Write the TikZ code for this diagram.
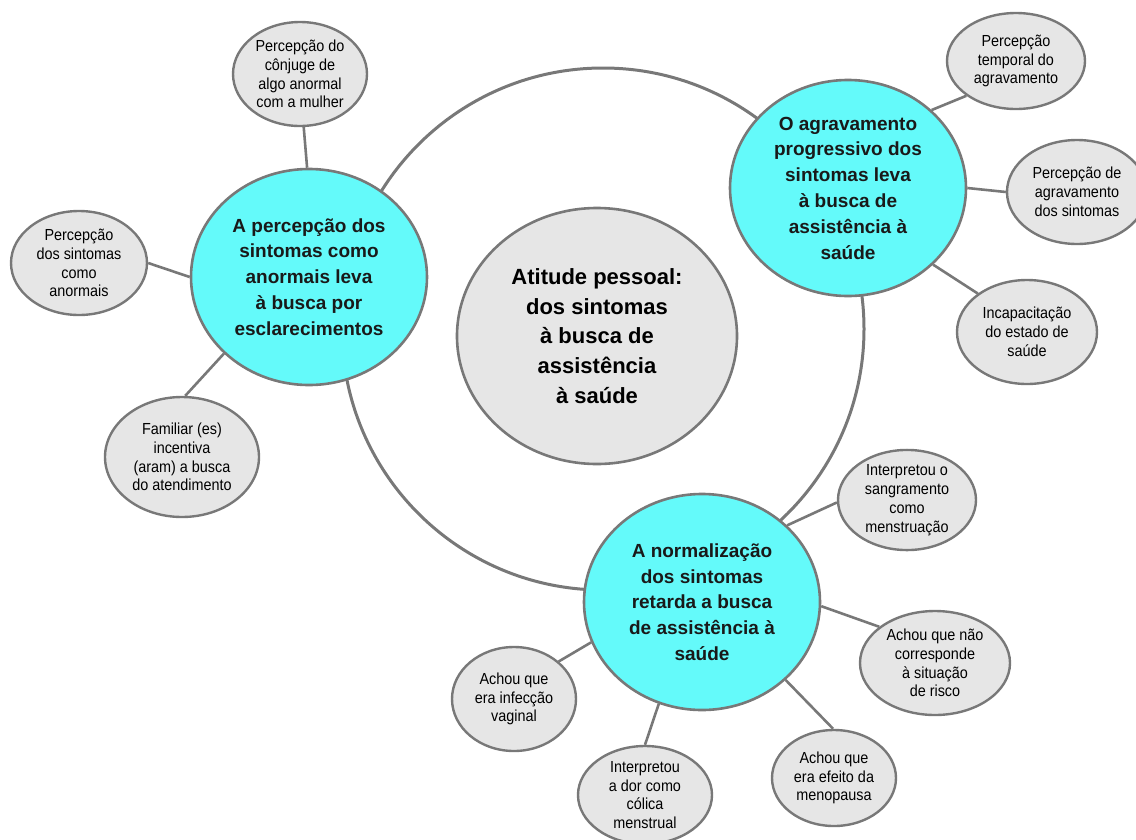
\documentclass[tikz,border=0pt]{standalone}
\usepackage{fontspec}
\setmainfont{Liberation Sans}
\newfontfamily\leaffont[FakeStretch=0.9]{Liberation Sans}
\usetikzlibrary{shapes.geometric}
\definecolor{hubcyan}{RGB}{100,250,250}
\definecolor{leafgray}{RGB}{230,230,230}
\definecolor{linegray}{RGB}{120,120,120}
\tikzset{
  ring/.style ={draw=linegray, line width=3pt, circle, minimum size=522pt, inner sep=0pt},
  core/.style ={draw=linegray, line width=2.6pt, ellipse, fill=leafgray, minimum width=280pt, minimum height=256pt, inner sep=0pt, align=center, font=\fontsize{22}{29.6}\selectfont\bfseries},
  hub/.style  ={draw=linegray, line width=2.6pt, ellipse, fill=hubcyan, minimum width=236pt, minimum height=216pt, inner sep=0pt, align=center, text=black!90, font=\fontsize{19}{25.8}\selectfont\bfseries},
  leaf/.style ={draw=linegray, line width=2.4pt, ellipse, fill=leafgray, inner sep=0pt, align=center, font=\leaffont\fontsize{16}{18.8}\selectfont},
  link/.style ={draw=linegray, line width=2.6pt},
}
\begin{document}
\begin{tikzpicture}[x=1pt, y=-1pt]
  \useasboundingbox (0,0) rectangle (1136,839);
  \node[ring] (orbit) at (603,329) {};
  \node[core] (core) at (597,336) {Atitude pessoal:\\ dos sintomas\\ à busca de\\ assistência\\ à saúde};
  % three themes on the ring
  \node[hub] (perc) at (309,277) {A percepção dos\\ sintomas como\\ anormais leva\\ à busca por\\ esclarecimentos};
  \node[hub] (agrav) at (848,188) {O agravamento\\ progressivo dos\\ sintomas leva\\ à busca de\\ assistência à\\ saúde};
  \node[hub] (norm) at (702,602) {A normalização\\ dos sintomas\\ retarda a busca\\ de assistência à\\ saúde};
  % left group
  \node[leaf, minimum width=134pt, minimum height=104pt] (conj) at (300,74) {Percepção do\\ cônjuge de\\ algo anormal\\ com a mulher};
  \node[leaf, minimum width=136pt, minimum height=104pt] (anor) at (79,263) {Percepção\\ dos sintomas\\ como\\ anormais};
  \node[leaf, minimum width=154pt, minimum height=120pt] (fam) at (182,457) {Familiar (es)\\ incentiva\\ (aram) a busca\\ do atendimento};
  % right group
  \node[leaf, minimum width=138pt, minimum height=96pt] (temp) at (1016,61) {Percepção\\ temporal do\\ agravamento};
  \node[leaf, minimum width=140pt, minimum height=104pt] (piora) at (1077,192) {Percepção de\\ agravamento\\ dos sintomas};
  \node[leaf, minimum width=140pt, minimum height=104pt] (incap) at (1027,332) {Incapacitação\\ do estado de\\ saúde};
  % bottom group
  \node[leaf, minimum width=138pt, minimum height=96pt] (sang) at (907,500) {Interpretou o\\ sangramento\\ como\\ menstruação};
  \node[leaf, minimum width=150pt, minimum height=104pt] (risco) at (935,663) {Achou que não\\ corresponde\\ à situação\\ de risco};
  \node[leaf, minimum width=124pt, minimum height=96pt] (meno) at (834,778) {Achou que\\ era efeito da\\ menopausa};
  \node[leaf, minimum width=134pt, minimum height=98pt] (dor) at (645,795) {Interpretou\\ a dor como\\ cólica\\ menstrual};
  \node[leaf, minimum width=124pt, minimum height=104pt] (infec) at (514,699) {Achou que\\ era infecção\\ vaginal};

  \draw[link] (perc.91) -- (conj.-86);
  \draw[link] (perc.180) -- (anor.0);
  \draw[link] (perc.222) -- (fam.87);
  \draw[link] (agrav.43) -- (temp.215);
  \draw[link] (agrav.0) -- (piora.180);
  \draw[link] (agrav.-42) -- (incap.142);
  \draw[link] (norm.42) -- (sang.182);
  \draw[link] (norm.-2) -- (risco.147);
  \draw[link] (norm.-43) -- (meno.91);
  \draw[link] (norm.-113) -- (dor.90);
  \draw[link] (norm.200) -- (infec.40);
\end{tikzpicture}
\end{document}
